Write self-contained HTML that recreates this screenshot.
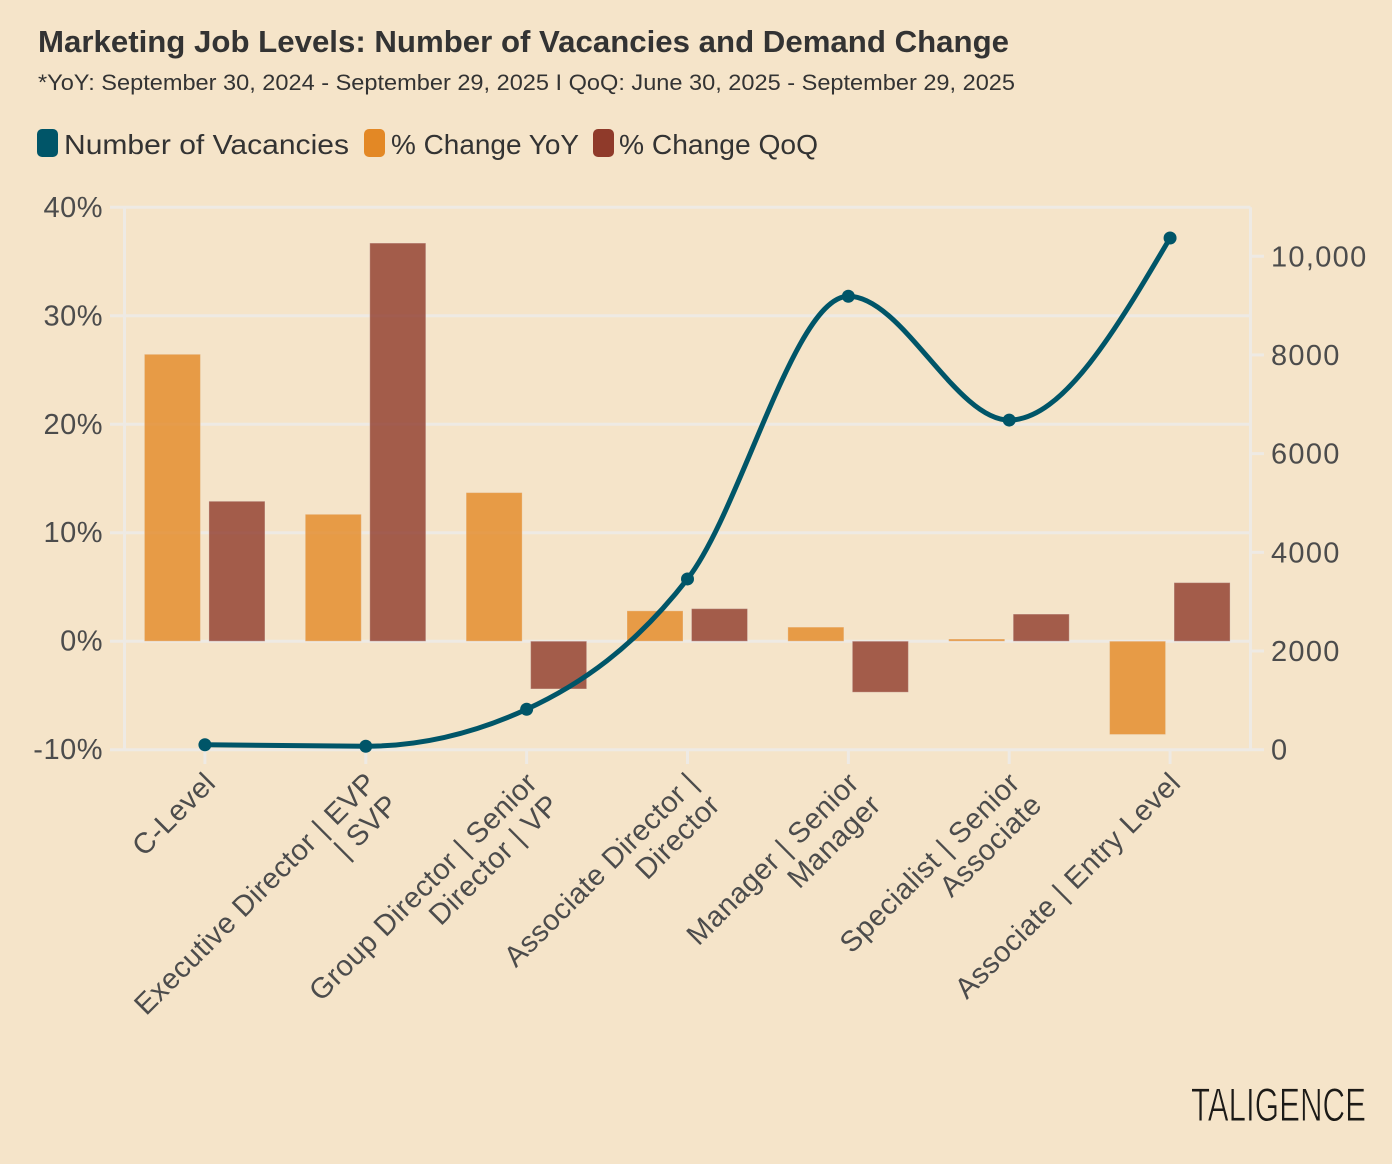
<!DOCTYPE html>
<html lang="en">
<head>
<meta charset="utf-8">
<title>Marketing Job Levels</title>
<style>
html,body{margin:0;padding:0;background:#f5e4c9;}
svg{display:block;font-family:"Liberation Sans",sans-serif;}
</style>
</head>
<body>
<svg id="chart" xmlns="http://www.w3.org/2000/svg" width="1392" height="1164" viewBox="0 0 1392 1164">
  <rect x="0" y="0" width="1392" height="1164" fill="#f5e4c9"/>
  <text x="38" y="52" font-size="31" font-weight="700" fill="#333333" textLength="971" lengthAdjust="spacingAndGlyphs">Marketing Job Levels: Number of Vacancies and Demand Change</text>
  <text x="38" y="90" font-size="22" fill="#333333" textLength="977" lengthAdjust="spacingAndGlyphs">*YoY: September 30, 2024 - September 29, 2025 I QoQ: June 30, 2025 - September 29, 2025</text>
  <g>
    <g>
      <rect x="37" y="129" width="21" height="28" rx="5" fill="#005568"/>
      <text x="64" y="154" font-size="27.5" fill="#333333" textLength="285" lengthAdjust="spacingAndGlyphs">Number of Vacancies</text>
    </g>
    <g>
      <rect x="364" y="129" width="21" height="28" rx="5" fill="#e38825"/>
      <text x="391" y="154" font-size="27.5" fill="#333333" textLength="188" lengthAdjust="spacingAndGlyphs">% Change YoY</text>
    </g>
    <g>
      <rect x="593" y="129" width="21" height="28" rx="5" fill="#8f3a2a"/>
      <text x="619" y="154" font-size="27.5" fill="#333333" textLength="199" lengthAdjust="spacingAndGlyphs">% Change QoQ</text>
    </g>
  </g>
  <g id="grid"></g>
  <g id="bars"></g>
  <g id="line"></g>
  <g id="labels"></g>
  <text x="1191" y="1121" font-size="47" fill="#1c1a17" stroke="#f5e4c9" stroke-width="0.9" textLength="175" lengthAdjust="spacingAndGlyphs">TALIGENCE</text>
</svg>
<script>
const categories = [
  ["C-Level"],
  ["Executive Director | EVP", "| SVP"],
  ["Group Director | Senior", "Director | VP"],
  ["Associate Director |", "Director"],
  ["Manager | Senior", "Manager"],
  ["Specialist | Senior", "Associate"],
  ["Associate | Entry Level"]
];
const yoyValues = [26.45, 11.7, 13.7, 2.8, 1.3, 0.2, -8.6];
const qoqValues = [12.9, 36.7, -4.4, 3.0, -4.7, 2.5, 5.4];
const vacancies = [100, 70, 820, 3460, 9190, 6680, 10370];
const leftTicks = [40, 30, 20, 10, 0, -10];
const rightTicks = [10000, 8000, 6000, 4000, 2000, 0];
const rightTickLabels = ["10,000", "8000", "6000", "4000", "2000", "0"];

const SVGNS = "http://www.w3.org/2000/svg";
const plot = {left: 124.5, right: 1250.5, top: 207.3, bottom: 749.7};
const GRID = "#eeeae4", TICKTEXT = "#4c4c4c", LINEC = "#005568";

function xBand(i) { return plot.left + (plot.right - plot.left) * (i + 0.5) / categories.length; }
function yLeft(v) { return plot.bottom - (v + 10) / 50 * (plot.bottom - plot.top); }
function yRight(v) { return plot.bottom - v * 0.049345; }

function make(parent, tag, attrs, text) {
  const el = document.createElementNS(SVGNS, tag);
  for (const k in attrs) el.setAttribute(k, attrs[k]);
  if (text !== undefined) el.textContent = text;
  parent.appendChild(el);
  return el;
}

const grid = document.getElementById("grid");
const barsG = document.getElementById("bars");
const lineG = document.getElementById("line");
const labelsG = document.getElementById("labels");

/* frame */
const leftAxis = make(grid, "line", {x1: plot.left, x2: plot.left, y1: plot.top, y2: plot.bottom, stroke: GRID, "stroke-width": 3});


const rightAxis = make(grid, "line", {x1: plot.right, x2: plot.right, y1: plot.top, y2: plot.bottom, stroke: GRID, "stroke-width": 3});



/* left ticks and gridlines */
leftTicks.forEach(function (t) {
  const y = yLeft(t);
  const g = make(grid, "line", {x1: 110, x2: plot.right, y1: y, y2: y, stroke: GRID, "stroke-width": 3});
  
  
  const lab = make(labelsG, "text", {x: 103, y: y + 9.5, "text-anchor": "end", "font-size": 29, "letter-spacing": 0.5, fill: TICKTEXT}, t + "%");
  
  
});

/* right ticks */
rightTicks.forEach(function (t, i) {
  const y = yRight(t);
  const g = make(grid, "line", {x1: plot.right, x2: 1264, y1: y, y2: y, stroke: GRID, "stroke-width": 3});
  
  
  const lab = make(labelsG, "text", {x: 1271, y: y + 10, "font-size": 29, "letter-spacing": 1.3, fill: TICKTEXT}, rightTickLabels[i]);
  
  
});

/* bars */
function drawBar(parent, i, v, x0, x1, fill, name) {
  const y0 = yLeft(0), y1 = yLeft(v);
  const r = make(parent, "rect", {
    x: xBand(i) + x0, width: x1 - x0,
    y: Math.min(y0, y1), height: Math.abs(y1 - y0),
    fill: fill, "fill-opacity": 0.8, stroke: "#f0ece6", "stroke-opacity": 0.3, "stroke-width": 1
  });
  
  
}
categories.forEach(function (c, i) {
  drawBar(barsG, i, yoyValues[i], -60.5, -4.5, "#e38825", "bar-yoy");
  drawBar(barsG, i, qoqValues[i], 4, 60, "#8f3a2a", "bar-qoq");
});

/* x ticks and rotated labels */
categories.forEach(function (lines, i) {
  const x = xBand(i);
  const tick = make(grid, "line", {x1: x, x2: x, y1: plot.bottom, y2: 764, stroke: GRID, "stroke-width": 3});
  
  
  const g = make(labelsG, "g", {transform: "translate(" + (x + 6.5) + " 779) rotate(-45)"});
  
  
  lines.forEach(function (ln, k) {
    const t = make(g, "text", {x: 0, y: k * 31 + 8, "text-anchor": "end", "font-size": 29, "letter-spacing": 0.45, fill: TICKTEXT}, ln);
    
    
  });
});

/* monotone-x cubic curve for the vacancies line */
const pts = vacancies.map(function (v, i) { return [xBand(i), yRight(v)]; });
function monotoneSlopes(p) {
  const n = p.length, s = [], m = [];
  for (let i = 0; i < n - 1; i++) s.push((p[i + 1][1] - p[i][1]) / (p[i + 1][0] - p[i][0]));
  for (let i = 1; i < n - 1; i++) {
    const avg = (s[i - 1] + s[i]) / 2;
    m[i] = (Math.sign(s[i - 1]) + Math.sign(s[i])) * Math.min(Math.abs(s[i - 1]), Math.abs(s[i]), 0.5 * Math.abs(avg));
  }
  m[0] = (3 * s[0] - m[1]) / 2;
  m[n - 1] = (3 * s[n - 2] - m[n - 2]) / 2;
  return m;
}
const slopes = monotoneSlopes(pts);
let d = "M" + pts[0];
for (let i = 0; i < pts.length - 1; i++) {
  const h = (pts[i + 1][0] - pts[i][0]) / 3;
  d += "C" + (pts[i][0] + h) + "," + (pts[i][1] + h * slopes[i]) + " " +
       (pts[i + 1][0] - h) + "," + (pts[i + 1][1] - h * slopes[i + 1]) + " " + pts[i + 1];
}
const path = make(lineG, "path", {d: d, fill: "none", stroke: LINEC, "stroke-width": 5});


pts.forEach(function (p) {
  const c = make(lineG, "circle", {cx: p[0], cy: p[1], r: 6.5, fill: LINEC});
  
  
});
</script>
</body>
</html>
